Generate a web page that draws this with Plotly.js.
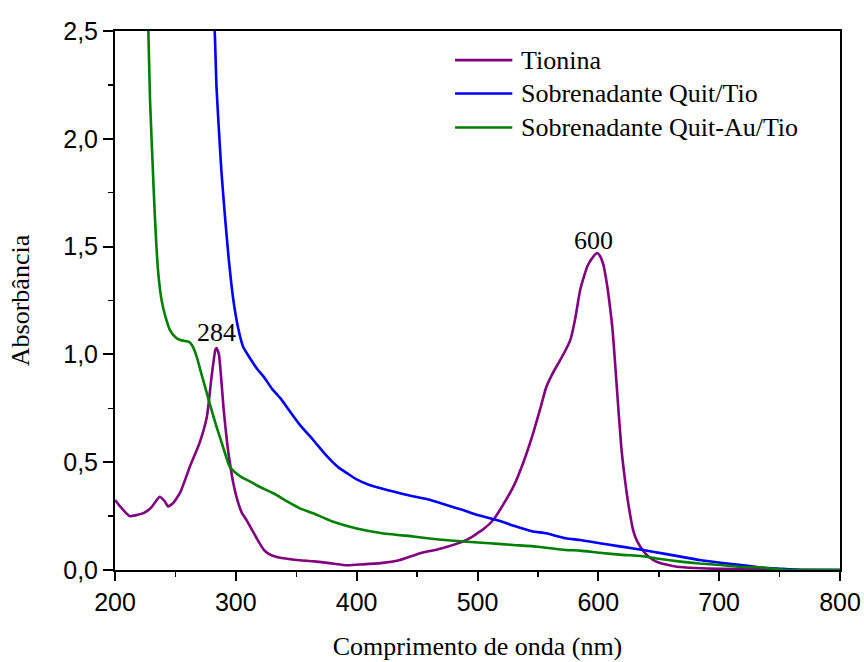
<!DOCTYPE html>
<html>
<head>
<meta charset="utf-8">
<script src="https://cdn.plot.ly/plotly-3.0.1.min.js"></script>
<style>body{margin:0;background:#fff}#chart{width:864px;height:662px}</style>
</head>
<body>
<div id="chart"></div>
<script>
const seriesNames = ["Tionina", "Sobrenadante Quit/Tio", "Sobrenadante Quit-Au/Tio"];

const tioninaX = [200,205,212,218,224,230,237,241,244,248,254,262,270,276,280,283,284,286,288,290,293,295,298,301,305,309,313,318,323,328,334,345,353,365,380,392,405,420,435,452,470,491,505,513,522,530,538,546,552,557,562,567,572,577,581,585,591,596,599,601,604,607,609,612,615,619,622,625,629,632,637,642,648,656,665,680,700,730,760,800];
const tioninaY = [0.325,0.29,0.25,0.255,0.265,0.29,0.34,0.32,0.295,0.31,0.36,0.48,0.59,0.71,0.90,1.02,1.03,1.00,0.88,0.74,0.58,0.50,0.40,0.33,0.265,0.23,0.19,0.14,0.095,0.072,0.06,0.05,0.045,0.04,0.03,0.022,0.026,0.032,0.045,0.077,0.10,0.14,0.19,0.232,0.31,0.39,0.50,0.634,0.75,0.85,0.91,0.96,1.01,1.07,1.17,1.30,1.41,1.455,1.47,1.46,1.42,1.33,1.25,1.10,0.87,0.57,0.42,0.30,0.18,0.135,0.09,0.06,0.039,0.025,0.015,0.009,0.005,0.003,0.001,0.0];

const quitX = [281,282.5,284,286,288,291,294,298,302,306,312,318,323,330,337,342,353,364,375,385,392,400,410,420,440,461,475,488,500,516,530,545,557,573,585,601,615,629,645,668,684,701,720,734,750,767,780,800];
const quitY = [2.6,2.5,2.24,2.04,1.855,1.64,1.45,1.25,1.12,1.036,0.98,0.93,0.897,0.84,0.796,0.757,0.673,0.603,0.53,0.475,0.449,0.42,0.395,0.379,0.35,0.325,0.30,0.278,0.255,0.232,0.205,0.18,0.17,0.147,0.139,0.124,0.112,0.10,0.085,0.062,0.046,0.034,0.022,0.012,0.006,0.0,0.0,0.0];

const quitAuX = [227,227.6,229,231,233,235.6,238.6,241.5,245.5,250,254,258,261,264,267.6,271,276,280,284,290,295,300,305,312,320,331,342,353,364,380,400,420,447,470,491,510,530,550,573,585,601,620,635,650,668,684,701,720,734,756,780,800];
const quitAuY = [2.6,2.5,2.18,1.90,1.64,1.39,1.25,1.18,1.113,1.08,1.067,1.062,1.059,1.04,0.99,0.92,0.82,0.74,0.665,0.56,0.479,0.45,0.43,0.41,0.385,0.356,0.32,0.286,0.263,0.225,0.193,0.172,0.155,0.14,0.131,0.124,0.116,0.108,0.093,0.09,0.08,0.07,0.065,0.052,0.039,0.03,0.023,0.014,0.012,0.0,0.0,0.0];

const peakLabels = ["284", "600"];
const peakX = [284, 596];
const peakY = [1.10, 1.53];

const colors = ["#800080", "#0000FF", "#008000"];
const serif = "Liberation Serif, Times New Roman, serif";
const sans = "Liberation Sans, Arial, sans-serif";

const traces = [
  {x: tioninaX, y: tioninaY, name: seriesNames[0]},
  {x: quitX, y: quitY, name: seriesNames[1]},
  {x: quitAuX, y: quitAuY, name: seriesNames[2]}
].map((t, i) => Object.assign(t, {
  type: "scatter", mode: "lines", showlegend: false,
  line: {color: colors[i], width: 2.6, shape: "spline", smoothing: 0.5}
}));

// legend drawn as line samples + text (paper coordinates)
const legX0 = 0.469, legX1 = 0.548, legTextX = 0.557;
const legY = [0.946, 0.884, 0.821];
const legendShapes = seriesNames.map((n, i) => ({
  type: "line", xref: "paper", yref: "paper",
  x0: legX0, x1: legX1, y0: legY[i], y1: legY[i],
  line: {color: colors[i], width: 2.6}
}));
const legendTexts = seriesNames.map((n, i) => ({
  xref: "paper", yref: "paper", x: legTextX, y: legY[i],
  xanchor: "left", yanchor: "middle", text: n, showarrow: false,
  font: {family: serif, size: 26, color: "#000"}
}));

const layout = {
  width: 864, height: 662,
  margin: {l: 115, r: 24, t: 31, b: 92},
  paper_bgcolor: "#fff", plot_bgcolor: "#fff",
  separators: ",.",
  showlegend: false,
  xaxis: {
    range: [200, 800], dtick: 100, tick0: 200,
    showgrid: false, zeroline: false,
    showline: true, linecolor: "#000", linewidth: 2, mirror: true,
    ticks: "outside", ticklen: 9, tickwidth: 2, tickcolor: "#000",
    minor: {ticks: "outside", ticklen: 5, tickwidth: 1.5, tickcolor: "#000", dtick: 50, showgrid: false},
    tickfont: {family: sans, size: 25, color: "#000"},
    title: {text: "Comprimento de onda (nm)", font: {family: serif, size: 26, color: "#000"}, standoff: 22}
  },
  yaxis: {
    range: [0, 2.5], dtick: 0.5, tick0: 0, tickformat: ".1f",
    showgrid: false, zeroline: false,
    showline: true, linecolor: "#000", linewidth: 2, mirror: true,
    ticks: "outside", ticklen: 10, tickwidth: 2, tickcolor: "#000",
    minor: {ticks: "outside", ticklen: 5, tickwidth: 1.5, tickcolor: "#000", dtick: 0.25, showgrid: false},
    tickfont: {family: sans, size: 25, color: "#000"},
    title: {text: "Absorbância", font: {family: serif, size: 26, color: "#000"}, standoff: 26}
  },
  shapes: legendShapes,
  annotations: peakLabels.map((t, i) => ({
    x: peakX[i], y: peakY[i], xref: "x", yref: "y", text: t, showarrow: false,
    font: {family: serif, size: 26, color: "#000"}
  })).concat(legendTexts)
};

Plotly.newPlot("chart", traces, layout, {displayModeBar: false, staticPlot: true});
</script>
</body>
</html>
